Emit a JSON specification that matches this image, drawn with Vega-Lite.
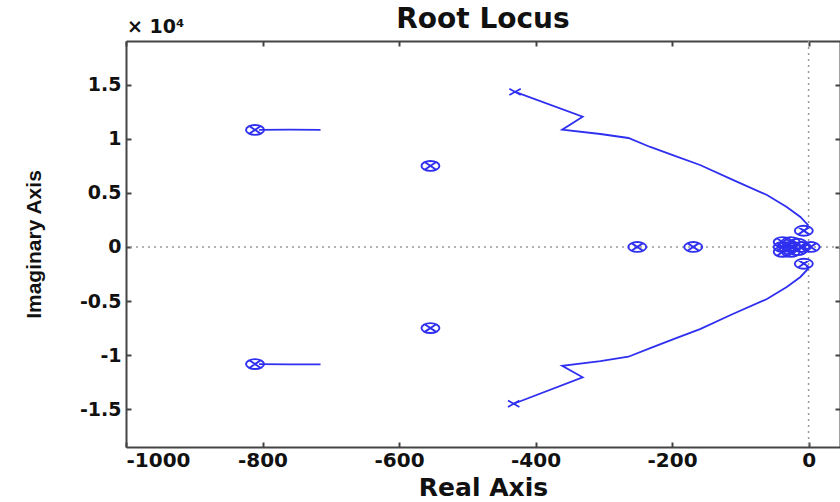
{
  "$schema": "https://vega.github.io/schema/vega-lite/v6.json",
  "width": 714,
  "height": 406,
  "autosize": {"type": "none"},
  "padding": {"left": 126, "top": 41, "right": 0, "bottom": 55},
  "background": "white",
  "config": {"view": {"stroke": null}, "font": "DejaVu Sans"},
  "title": {"text": "Root Locus", "font": "DejaVu Sans", "fontSize": 28, "fontWeight": "bold", "anchor": "middle", "frame": "group", "offset": -16, "color": "#111111"},
  "data": {"values": [
    {"kind": "locus", "branch": "u", "k": 1, "re": -430, "im": 14350},
    {"kind": "locus", "branch": "u", "k": 2, "re": -331, "im": 12050},
    {"kind": "locus", "branch": "u", "k": 3, "re": -361, "im": 10850},
    {"kind": "locus", "branch": "u", "k": 4, "re": -305, "im": 10450},
    {"kind": "locus", "branch": "u", "k": 5, "re": -264, "im": 10080},
    {"kind": "locus", "branch": "u", "k": 6, "re": -232, "im": 9250},
    {"kind": "locus", "branch": "u", "k": 7, "re": -195, "im": 8400},
    {"kind": "locus", "branch": "u", "k": 8, "re": -159, "im": 7585},
    {"kind": "locus", "branch": "u", "k": 9, "re": -111, "im": 6200},
    {"kind": "locus", "branch": "u", "k": 10, "re": -61, "im": 4810},
    {"kind": "locus", "branch": "u", "k": 11, "re": -32, "im": 3700},
    {"kind": "locus", "branch": "u", "k": 12, "re": -12, "im": 2775},
    {"kind": "locus", "branch": "u", "k": 13, "re": -1, "im": 2035},
    {"kind": "locus", "branch": "u", "k": 14, "re": -3, "im": 1650},
    {"kind": "locus", "branch": "l", "k": 1, "re": -432, "im": -14500},
    {"kind": "locus", "branch": "l", "k": 2, "re": -331, "im": -12050},
    {"kind": "locus", "branch": "l", "k": 3, "re": -361, "im": -11000},
    {"kind": "locus", "branch": "l", "k": 4, "re": -305, "im": -10550},
    {"kind": "locus", "branch": "l", "k": 5, "re": -264, "im": -10150},
    {"kind": "locus", "branch": "l", "k": 6, "re": -232, "im": -9350},
    {"kind": "locus", "branch": "l", "k": 7, "re": -195, "im": -8450},
    {"kind": "locus", "branch": "l", "k": 8, "re": -159, "im": -7600},
    {"kind": "locus", "branch": "l", "k": 9, "re": -111, "im": -6200},
    {"kind": "locus", "branch": "l", "k": 10, "re": -61, "im": -4810},
    {"kind": "locus", "branch": "l", "k": 11, "re": -32, "im": -3700},
    {"kind": "locus", "branch": "l", "k": 12, "re": -12, "im": -2775},
    {"kind": "locus", "branch": "l", "k": 13, "re": -1, "im": -2035},
    {"kind": "locus", "branch": "l", "k": 14, "re": -3, "im": -1700},
    {"kind": "locus", "branch": "h1", "k": 1, "re": -805, "im": 10830},
    {"kind": "locus", "branch": "h1", "k": 2, "re": -760, "im": 10850},
    {"kind": "locus", "branch": "h1", "k": 3, "re": -715, "im": 10830},
    {"kind": "locus", "branch": "h2", "k": 1, "re": -805, "im": -10830},
    {"kind": "locus", "branch": "h2", "k": 2, "re": -760, "im": -10850},
    {"kind": "locus", "branch": "h2", "k": 3, "re": -715, "im": -10850},
    {"kind": "zp", "re": -811, "im": 10830},
    {"kind": "zp", "re": -811, "im": -10830},
    {"kind": "zp", "re": -554, "im": 7500},
    {"kind": "zp", "re": -554, "im": -7500},
    {"kind": "zp", "re": -251, "im": 0},
    {"kind": "zp", "re": -169, "im": 0},
    {"kind": "zp", "re": -38, "im": 450},
    {"kind": "zp", "re": -38, "im": 0},
    {"kind": "zp", "re": -38, "im": -450},
    {"kind": "zp", "re": -26, "im": 450},
    {"kind": "zp", "re": -26, "im": 0},
    {"kind": "zp", "re": -26, "im": -450},
    {"kind": "zp", "re": -16, "im": 300},
    {"kind": "zp", "re": -16, "im": -300},
    {"kind": "zp", "re": -10, "im": 0},
    {"kind": "zp", "re": -7, "im": 1500},
    {"kind": "zp", "re": -7, "im": -1550},
    {"kind": "zp", "re": 3, "im": 0},
    {"kind": "pole", "re": -430, "im": 14350},
    {"kind": "pole", "re": -432, "im": -14500},
    {"kind": "ref", "re": 0, "im": 0},
    {"kind": "exp", "label": "× 10⁴", "re": -1000, "im": 19050}
  ]},
  "resolve": {"axis": {"x": "independent", "y": "independent"}},
  "layer": [
    {
      "transform": [{"filter": "datum.kind === 'ref'"}],
      "mark": {"type": "rule", "color": "#9a9a9a", "strokeDash": [2, 4], "strokeWidth": 1.5},
      "encoding": {
        "x": {"field": "re", "type": "quantitative", "scale": {"domain": [-1000, 46], "nice": false, "zero": false},
          "axis": {"orient": "bottom", "values": [-1000, -800, -600, -400, -200, 0], "labelExpr": "datum.value + ''", "title": "Real Axis", "titleFont": "DejaVu Sans", "titleFontSize": 25, "titleFontWeight": "bold", "titleColor": "#111111", "titlePadding": 5, "labelFont": "DejaVu Sans", "labelFontSize": 20, "labelFontWeight": "bold", "labelColor": "#111111", "labelPadding": 8, "domainColor": "#444444", "domainWidth": 2, "tickColor": "#444444", "tickWidth": 2, "tickSize": -5, "grid": false}}
      }
    },
    {
      "transform": [{"filter": "datum.kind === 'ref'"}],
      "mark": {"type": "rule", "color": "#9a9a9a", "strokeDash": [2, 4], "strokeWidth": 1.5},
      "encoding": {
        "y": {"field": "im", "type": "quantitative", "scale": {"domain": [-18500, 19050], "nice": false, "zero": false},
          "axis": {"orient": "left", "values": [-15000, -10000, -5000, 0, 5000, 10000, 15000], "labelExpr": "(datum.value / 10000) + ''", "title": "Imaginary Axis", "titleFont": "Liberation Sans", "titleFontSize": 21, "titleFontWeight": "bold", "titleColor": "#111111", "titlePadding": 35, "labelFont": "DejaVu Sans", "labelFontSize": 19, "labelFontWeight": "bold", "labelColor": "#111111", "labelPadding": 10, "domainColor": "#444444", "domainWidth": 2, "tickColor": "#444444", "tickWidth": 2, "tickSize": -5, "grid": false}}
      }
    },
    {
      "transform": [{"filter": "datum.kind === 'locus'"}],
      "mark": {"type": "line", "color": "#2f2ff0", "strokeWidth": 1.8},
      "encoding": {
        "x": {"field": "re", "type": "quantitative", "scale": {"domain": [-1000, 46], "nice": false, "zero": false},
          "axis": {"orient": "top", "values": [-1000, -800, -600, -400, -200, 0], "labels": false, "title": null, "domainColor": "#444444", "domainWidth": 2, "tickColor": "#444444", "tickWidth": 2, "tickSize": -5, "grid": false}},
        "y": {"field": "im", "type": "quantitative", "scale": {"domain": [-18500, 19050], "nice": false, "zero": false},
          "axis": {"orient": "right", "values": [-15000, -10000, -5000, 0, 5000, 10000, 15000], "labels": false, "title": null, "domainColor": "#444444", "domainWidth": 2, "tickColor": "#444444", "tickWidth": 2, "tickSize": -5, "grid": false}},
        "detail": {"field": "branch"},
        "order": {"field": "k", "type": "quantitative"}
      }
    },
    {
      "transform": [{"filter": "datum.kind === 'zp'"}],
      "mark": {"type": "point", "shape": "M-1,0A1,0.55 0 1,0 1,0A1,0.55 0 1,0 -1,0M-0.6,-0.4L0.6,0.4M-0.6,0.4L0.6,-0.4", "size": 324, "filled": false, "color": "#2f2ff0", "strokeWidth": 1.9, "opacity": 1},
      "encoding": {
        "x": {"field": "re", "type": "quantitative", "axis": null},
        "y": {"field": "im", "type": "quantitative", "axis": null}
      }
    },
    {
      "transform": [{"filter": "datum.kind === 'pole'"}],
      "mark": {"type": "point", "shape": "M-1,-0.55L1,0.55M-1,0.55L1,-0.55", "size": 130, "filled": false, "color": "#2f2ff0", "strokeWidth": 1.7, "opacity": 1},
      "encoding": {
        "x": {"field": "re", "type": "quantitative", "axis": null},
        "y": {"field": "im", "type": "quantitative", "axis": null}
      }
    },
    {
      "transform": [{"filter": "datum.kind === 'exp'"}],
      "mark": {"type": "text", "font": "DejaVu Sans", "fontSize": 19, "fontWeight": "bold", "color": "#111111", "align": "left", "baseline": "alphabetic", "dx": 1, "dy": -8},
      "encoding": {
        "text": {"field": "label"},
        "x": {"field": "re", "type": "quantitative", "axis": null},
        "y": {"field": "im", "type": "quantitative", "axis": null}
      }
    }
  ]
}
